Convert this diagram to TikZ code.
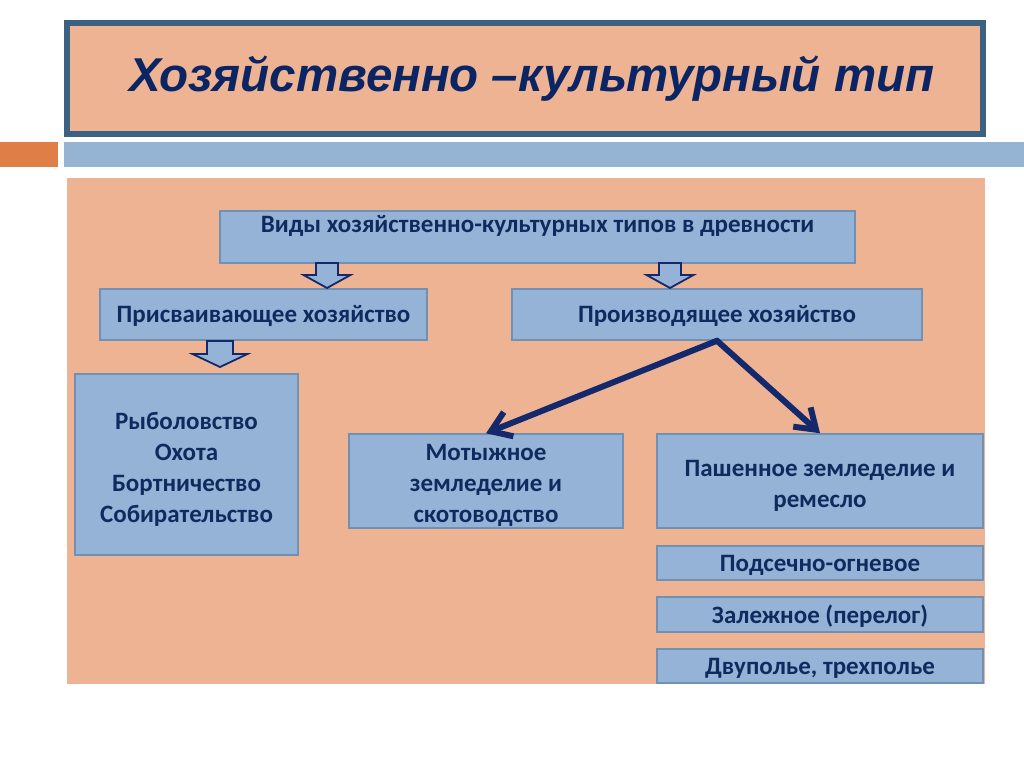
\documentclass[tikz,border=0pt]{standalone}
\usepackage{fontspec}
\setmainfont{Carlito}
\newfontfamily\titlefont{Liberation Sans}
\usetikzlibrary{arrows.meta}
\definecolor{peach}{HTML}{EDB393}
\definecolor{boxc}{HTML}{95B3D7}
\definecolor{bordc}{HTML}{7090B4}
\definecolor{titbord}{HTML}{3C6182}
\definecolor{txtc}{HTML}{0F2A5E}
\definecolor{titc}{HTML}{0B2464}
\definecolor{navy}{HTML}{14296B}
\definecolor{orangebar}{HTML}{DF7F47}
\definecolor{bluebar}{HTML}{95B3D2}
\newcommand\firststrut{\rule{0pt}{26pt}}
\newcommand\onestrut{\rule{0pt}{21pt}}
\tikzset{
  box/.style={draw=bordc, fill=boxc, line width=1.5pt, inner sep=0pt, align=center,
    text=txtc, font=\bfseries\fontsize{25}{31}\selectfont},
  navyarrow/.style={draw=navy, line width=6pt, line cap=round,
    -{Straight Barb[length=19pt,width=26pt,line width=0pt 1 1]}},
  barrow/.style={draw=navy, fill=boxc, line width=1.8pt, line join=miter},
  pics/blockarrow/.style args={#1/#2/#3}{code={
    \path[barrow] (-#1/2,0) -- (#1/2,0) -- (#1/2,#3) -- (#2/2,#3) -- (0,{#3+13}) -- (-#2/2,#3) -- (-#1/2,#3) -- cycle;
  }}
}
\begin{document}
\begin{tikzpicture}[x=1pt,y=-1pt]
\useasboundingbox (0,0) rectangle (1024,767);
\fill[white] (0,0) rectangle (1024,767);
% title
\node[draw=titbord, fill=peach, line width=6pt, minimum width=916pt, minimum height=111pt, inner sep=0pt,
  text=titc, font=\titlefont\bfseries\itshape\fontsize{47.5}{54}\selectfont] (title) at (525,78.5)
  {\hspace*{14pt}Хозяйственно –культурный тип};
\fill[orangebar] (0,142) rectangle (58,167);
\fill[bluebar] (64,142) rectangle (1024,167);
% panel
\fill[peach] (67,178) rectangle (985,684);
% boxes
\node[box, minimum width=635pt, minimum height=52pt, text height=18pt, text depth=27pt] (top) at (537.5,237)
  {Виды хозяйственно-культурных типов в древности};
\node[box, minimum width=327pt, minimum height=51pt] (prisv) at (263.5,314.5) {\onestrut Присваивающее хозяйство};
\node[box, minimum width=410pt, minimum height=51pt] (proizv) at (717,314.5) {\onestrut Производящее хозяйство};
\node[box, minimum width=223pt, minimum height=181pt] (ryb) at (186.5,464.5)
  {\firststrut Рыболовство\\Охота\\Бортничество\\Собирательство};
\node[box, minimum width=274pt, minimum height=94pt] (motyzh) at (486,481)
  {\firststrut Мотыжное\\земледелие и\\скотоводство};
\node[box, minimum width=326pt, minimum height=94pt] (pash) at (820,481)
  {\firststrut Пашенное земледелие и\\ремесло};
\node[box, minimum width=326pt, minimum height=34pt] (podsech) at (820,563) {\onestrut Подсечно-огневое};
\node[box, minimum width=326pt, minimum height=35pt] (zalezh) at (820,614.5) {\onestrut Залежное (перелог)};
\node[box, minimum width=326pt, minimum height=34pt] (dvupol) at (820,666) {\onestrut Двуполье, трехполье};
% block arrows
\pic at (327,263) {blockarrow=22/47/12};
\pic at (670,263) {blockarrow=22/47/12};
\pic at (220,341) {blockarrow=26/55/13};
% navy arrows
\draw[navyarrow] (proizv.south) -- (motyzh.north);
\draw[navyarrow] (proizv.south) -- (pash.north);
\end{tikzpicture}
\end{document}
